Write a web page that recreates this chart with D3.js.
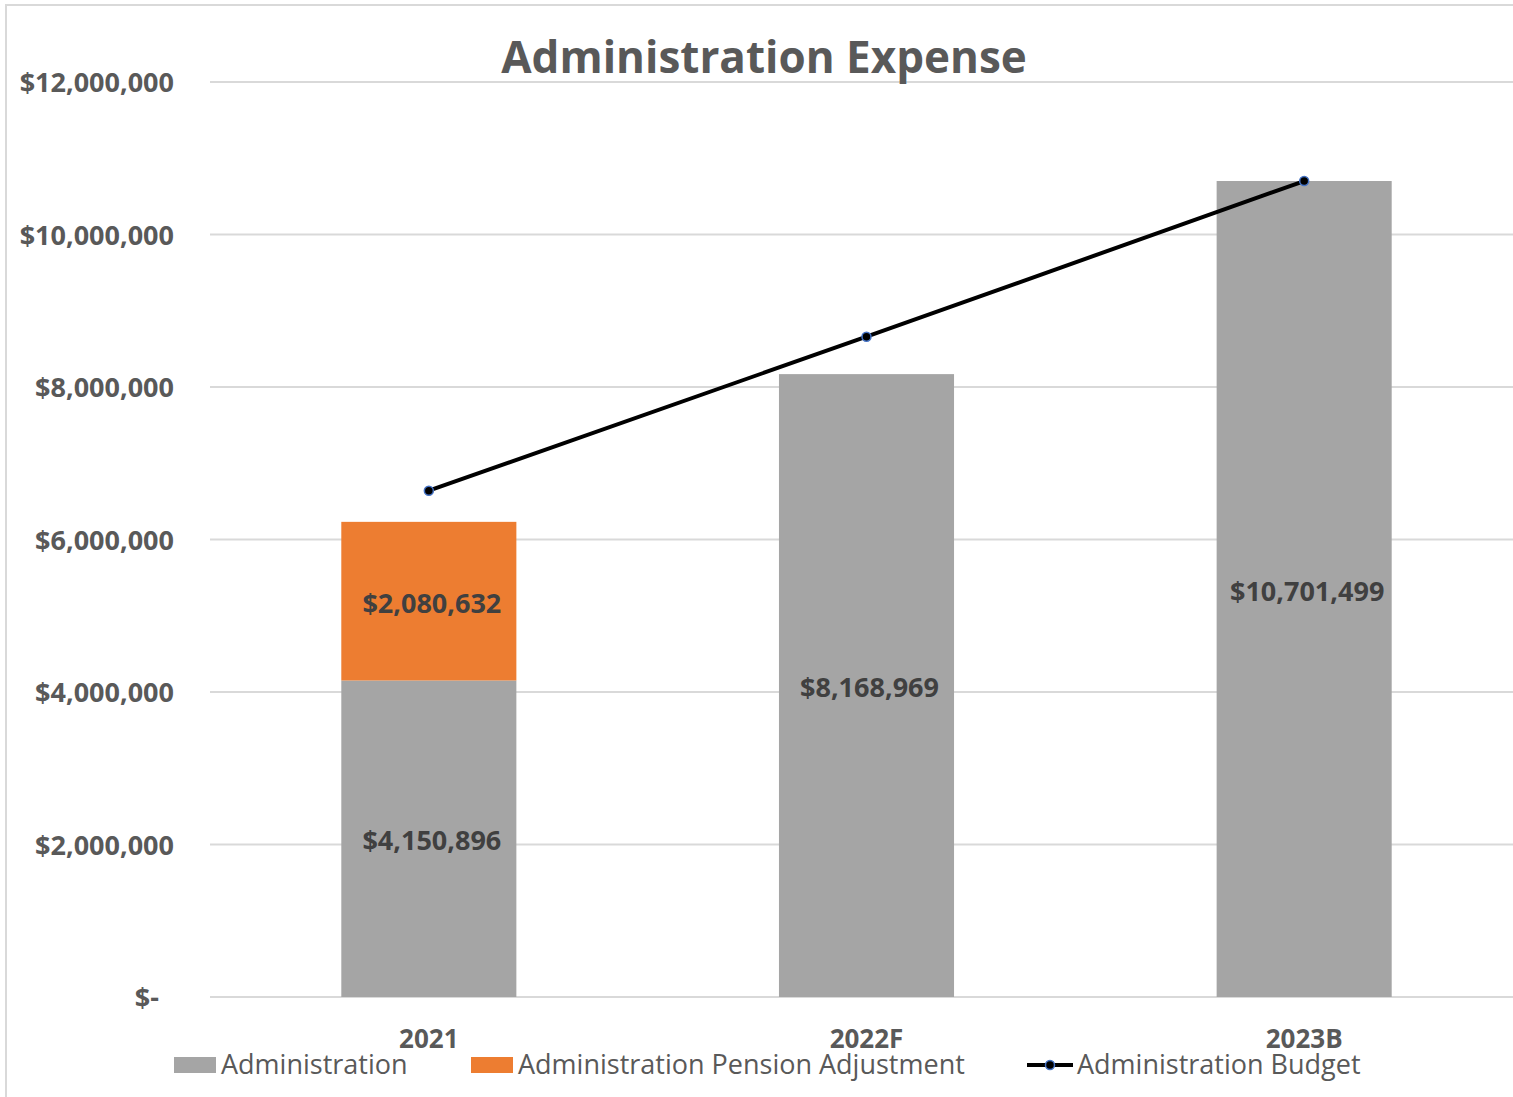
<!DOCTYPE html>
<html>
<head>
<meta charset="utf-8">
<script src="https://cdn.jsdelivr.net/npm/d3@7"></script>
<style>
  html, body { margin: 0; padding: 0; background: #fff; }
  svg { display: block; font-family: "Open Sans", Lato, sans-serif; }
</style>
</head>
<body>
<svg id="chart" width="1513" height="1097"></svg>
<script>
// Yearly administration spending, pension adjustment and budget
const categories = ["2021", "2022F", "2023B"];
const administration = [4150896, 8168969, 10701499];
const pensionAdjustment = [2080632, 0, 0];
const budget = [6640000, 8660000, 10701499];
const yTicks = [0, 2000000, 4000000, 6000000, 8000000, 10000000, 12000000];
const seriesNames = ["Administration", "Administration Pension Adjustment", "Administration Budget"];

const colors = { admin: "#a5a5a5", pension: "#ed7d31", line: "#000000", marker: "#4472c4", text: "#595959", label: "#404040", grid: "#d9d9d9" };

const svg = d3.select("#chart");
const plot = { left: 210, right: 1523, top: 82, bottom: 997 };

// outer chart frame
svg.append("rect")
  .attr("x", 6).attr("y", 5).attr("width", 1600).attr("height", 1200)
  .attr("fill", "none").attr("stroke", colors.grid).attr("stroke-width", 2);

const x = d3.scaleBand().domain(categories).range([plot.left, plot.right]).paddingInner(0.6).paddingOuter(0.3);
const y = d3.scaleLinear().domain([0, 12000000]).range([plot.bottom, plot.top]);

const fmt = d3.format(",");
const money = v => v === 0 ? "$-" : "$" + fmt(v);

// gridlines
svg.append("g").selectAll("line").data(yTicks).join("line")
  .attr("x1", plot.left).attr("x2", plot.right)
  .attr("y1", d => y(d)).attr("y2", d => y(d))
  .attr("stroke", colors.grid).attr("stroke-width", 2);

// y axis labels
const yAxis = d3.axisLeft(y).tickValues(yTicks).tickFormat(money).tickSize(0).tickPadding(0);
const yg = svg.append("g").attr("transform", `translate(174,0)`).call(yAxis);
yg.select(".domain").remove();
yg.selectAll("text").attr("fill", colors.text).attr("font-size", 27).attr("font-weight", 700)
  .attr("font-family", "'Open Sans', sans-serif").attr("dy", "0.36em");
yg.selectAll(".tick").filter(d => d === 0).select("text").attr("transform", "translate(-15,0)");

// x axis labels
const xAxis = d3.axisBottom(x).tickSize(0).tickPadding(0);
const xg = svg.append("g").attr("transform", `translate(0,1048)`).call(xAxis);
xg.select(".domain").remove();
xg.selectAll("text").attr("fill", colors.text).attr("font-size", 26).attr("font-weight", 700)
  .attr("font-family", "'Open Sans', sans-serif").attr("y", 0).attr("dy", 0);

// stacked bars
const stackData = categories.map((c, i) => ({ cat: c, admin: administration[i], pension: pensionAdjustment[i] }));
const stack = d3.stack().keys(["admin", "pension"])(stackData);
const fills = { admin: colors.admin, pension: colors.pension };

const layers = svg.append("g").selectAll("g").data(stack).join("g").attr("fill", d => fills[d.key]);
layers.selectAll("rect").data(d => d.filter(s => s[1] > s[0])).join("rect")
  .attr("x", d => x(d.data.cat)).attr("width", x.bandwidth())
  .attr("y", d => y(d[1])).attr("height", d => y(d[0]) - y(d[1]));

// value labels centred in each segment
layers.selectAll("text").data(d => d.filter(s => s[1] > s[0])).join("text")
  .attr("x", d => x(d.data.cat) + x.bandwidth() / 2 + 3)
  .attr("y", d => y((d[0] + d[1]) / 2) + 2)
  .attr("dy", "0.36em").attr("text-anchor", "middle")
  .attr("fill", colors.label).attr("font-size", 27).attr("font-weight", 700)
  .text(d => "$" + fmt(d[1] - d[0]));

// budget line
const cx = c => x(c) + x.bandwidth() / 2;
const line = d3.line().x((d, i) => cx(categories[i])).y(d => y(d));
svg.append("path").datum(budget).attr("d", line)
  .attr("fill", "none").attr("stroke", colors.line).attr("stroke-width", 4);
svg.append("g").selectAll("circle").data(budget).join("circle")
  .attr("cx", (d, i) => cx(categories[i])).attr("cy", d => y(d)).attr("r", 4.5)
  .attr("fill", "#000").attr("stroke", colors.marker).attr("stroke-width", 1.5);

// title
svg.append("text").attr("x", 764).attr("y", 73).attr("text-anchor", "middle")
  .attr("fill", colors.text).attr("font-size", 44).attr("font-weight", 700)
  .text("Administration Expense");

// legend
const legend = svg.append("g").attr("font-size", 27).attr("fill", colors.text);
const ly = 1065;
const lb = 1074;
legend.append("rect").attr("x", 174).attr("y", ly - 8).attr("width", 42).attr("height", 16).attr("fill", colors.admin);
legend.append("text").attr("x", 221).attr("y", lb).text(seriesNames[0]);
legend.append("rect").attr("x", 471).attr("y", ly - 8).attr("width", 42).attr("height", 16).attr("fill", colors.pension);
legend.append("text").attr("x", 518).attr("y", lb).text(seriesNames[1]);
legend.append("line").attr("x1", 1027).attr("x2", 1073).attr("y1", ly).attr("y2", ly)
  .attr("stroke", colors.line).attr("stroke-width", 4);
legend.append("circle").attr("cx", 1050).attr("cy", ly).attr("r", 4.5)
  .attr("fill", "#000").attr("stroke", colors.marker).attr("stroke-width", 1.5);
legend.append("text").attr("x", 1077).attr("y", lb).text(seriesNames[2]);
</script>
</body>
</html>
